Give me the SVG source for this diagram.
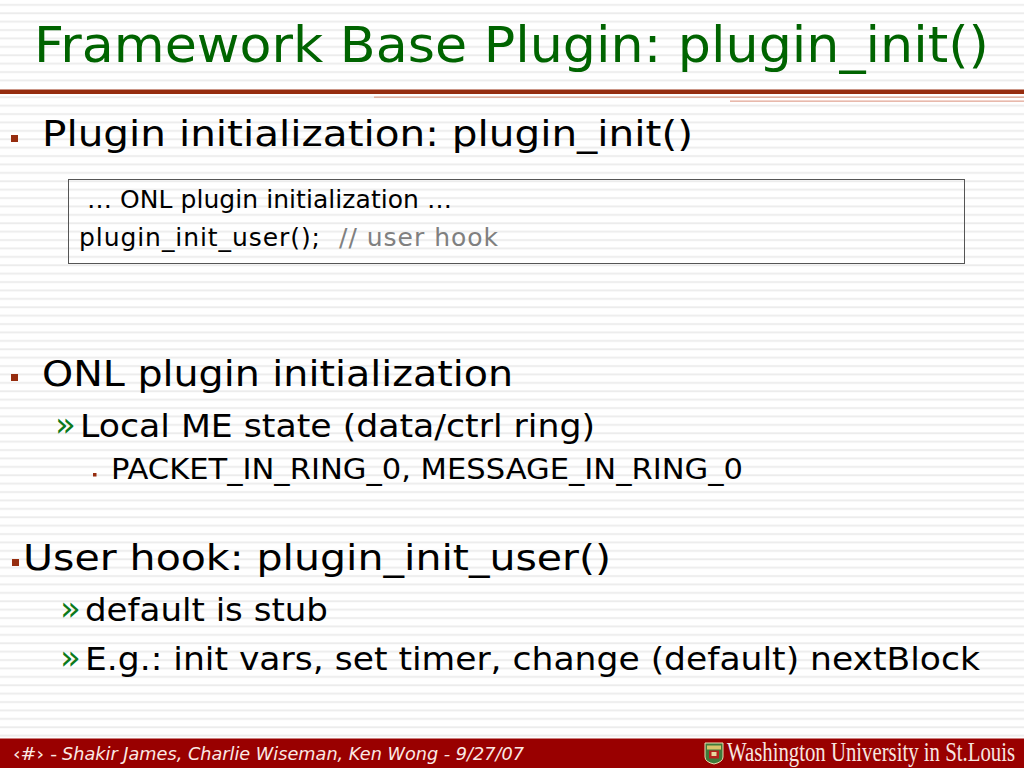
<svg xmlns="http://www.w3.org/2000/svg" width="1024" height="768" viewBox="0 0 1024 768">
<style>
text{font-family:"DejaVu Sans",Verdana,sans-serif;fill:#000}
.t{fill:#006400;font-size:50px}
.l1{font-size:36px}
.l2{font-size:32.500px}
.l3{font-size:27.500px}
.code{font-size:25px}
.bu{fill:#962d0f}
.gr{fill:#0c7a1a;font-size:34px}
</style>
<defs>
<pattern id="st" width="1024" height="8.4" patternUnits="userSpaceOnUse">
<rect y="4" width="1024" height="1.8" fill="#ececec"/>
</pattern>
</defs>
<rect width="1024" height="768" fill="#fff"/>
<rect width="1024" height="738" fill="url(#st)"/>
<g id="title"><text class="t" x="34" y="62" textLength="955" lengthAdjust="spacingAndGlyphs">Framework Base Plugin: plugin_init()</text></g>
<g id="rules">
<rect y="87" width="1024" height="3" fill="#fff"/>
<rect y="89.500" width="1024" height="4.500" fill="#962d0f"/>
<rect x="374" y="94" width="650" height="3" fill="#fff"/>
<rect x="374" y="96.500" width="650" height="1.200" fill="#d99a85"/>
<rect x="730" y="98" width="294" height="4" fill="#fff"/>
<rect x="730" y="100.500" width="294" height="1.300" fill="#e3a898"/>
</g>
<g id="b1">
<rect class="bu" x="11" y="135" width="7" height="7"/>
<text class="l1" x="42" y="146" textLength="651" lengthAdjust="spacingAndGlyphs">Plugin initialization: plugin_init()</text>
</g>
<g id="codebox">
<rect x="68.500" y="179.500" width="896" height="84" fill="none" stroke="#555" stroke-width="1"/>
<text class="code" x="87" y="208" textLength="365" lengthAdjust="spacing">… ONL plugin initialization …</text>
<text class="code" x="79" y="246" textLength="241" lengthAdjust="spacing">plugin_init_user();</text>
<text class="code" x="339" y="246" textLength="159" lengthAdjust="spacing" style="fill:#808080">// user hook</text>
</g>
<g id="b2">
<rect class="bu" x="11" y="374" width="7" height="7"/>
<text class="l1" x="42" y="386" textLength="471" lengthAdjust="spacingAndGlyphs">ONL plugin initialization</text>
<text class="gr" x="55" y="436">»</text>
<text class="l2" x="80" y="437" textLength="515" lengthAdjust="spacingAndGlyphs">Local ME state (data/ctrl ring)</text>
<rect class="bu" x="93" y="473" width="3.500" height="3.500"/>
<text class="l3" x="111" y="479" textLength="632" lengthAdjust="spacingAndGlyphs">PACKET_IN_RING_0, MESSAGE_IN_RING_0</text>
</g>
<g id="b3">
<rect class="bu" x="12" y="559" width="7" height="7"/>
<text class="l1" x="23" y="570" textLength="588" lengthAdjust="spacingAndGlyphs">User hook: plugin_init_user()</text>
<text class="gr" x="60" y="620">»</text>
<text class="l2" x="85" y="621" textLength="243" lengthAdjust="spacingAndGlyphs">default is stub</text>
<text class="gr" x="60" y="669">»</text>
<text class="l2" x="85" y="670" textLength="895" lengthAdjust="spacingAndGlyphs">E.g.: init vars, set timer, change (default) nextBlock</text>
</g>
<g id="footer">
<rect y="738.500" width="1024" height="29.500" fill="#990000"/>
<text x="13" y="760" font-size="18" style="fill:#fbe9e4" textLength="44" lengthAdjust="spacingAndGlyphs">‹#› -</text>
<text x="62" y="760" font-size="18" font-style="italic" style="fill:#fbe9e4" textLength="462" lengthAdjust="spacingAndGlyphs">Shakir James, Charlie Wiseman, Ken Wong - 9/27/07</text>
</g>
<g id="logo">
<path d="M705 743h18v14q0 5-9 7-9-2-9-7z" fill="#3f7a3a" stroke="#e8e0b0" stroke-width="1"/>
<rect x="707" y="745.500" width="14" height="4" fill="#d8c36a"/>
<rect x="709" y="750.500" width="10" height="8" fill="#b5231f"/>
<rect x="711.500" y="752" width="5" height="4" fill="#e8d9a0"/>
<text transform="translate(727 761) scale(.77 1)" x="0" y="0" font-size="27" style="font-family:'Liberation Serif',serif;fill:#f7e6e0">Washington University in St.Louis</text>
</g>
</svg>
